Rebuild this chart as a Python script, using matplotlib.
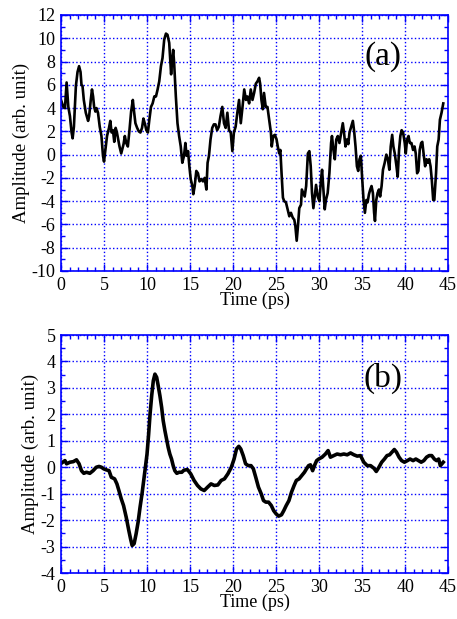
import numpy as np
import matplotlib
matplotlib.use('Agg')
import matplotlib.pyplot as plt
from matplotlib.ticker import MultipleLocator

# (a) raw waveform
time_a = [0.0, 0.27, 0.46, 0.65, 0.85, 1.04, 1.23, 1.35, 1.5, 1.73, 1.92, 2.1, 2.27, 2.38, 2.5,
          2.65, 2.88, 3.15, 3.27, 3.46, 3.6, 3.73, 3.85, 4.0, 4.12, 4.3, 4.5, 4.7, 4.88, 5.0,
          5.2, 5.35, 5.58, 5.73, 5.88, 6.04, 6.19, 6.35, 6.5, 6.65, 6.8, 7.0, 7.1, 7.27, 7.42,
          7.58, 7.77, 7.96, 8.15, 8.35, 8.46, 8.65, 8.85, 9.04, 9.23, 9.42, 9.58, 9.77, 9.92,
          10.1, 10.27, 10.46, 10.65, 10.85, 11.04, 11.23, 11.42, 11.62, 11.8, 12.0, 12.2, 12.38,
          12.58, 12.7, 12.8, 12.92, 13.04, 13.15, 13.35, 13.54, 13.73, 13.92, 14.1, 14.3, 14.46,
          14.6, 14.77, 14.92, 15.08, 15.27, 15.38, 15.54, 15.73, 15.92, 16.1, 16.3, 16.5, 16.7,
          16.9, 17.04, 17.2, 17.38, 17.58, 17.77, 17.96, 18.15, 18.35, 18.54, 18.75, 18.95,
          19.14, 19.34, 19.53, 19.73, 19.92, 20.1, 20.3, 20.5, 20.7, 20.9, 21.1, 21.3, 21.5,
          21.67, 21.87, 22.06, 22.26, 22.45, 22.65, 22.84, 23.03, 23.15, 23.3, 23.46, 23.6,
          23.8, 24.0, 24.2, 24.4, 24.5, 24.67, 24.86, 25.06, 25.2, 25.37, 25.5, 25.64, 25.8,
          25.95, 26.15, 26.34, 26.54, 26.73, 26.93, 27.12, 27.24, 27.4, 27.55, 27.7, 27.9,
          28.0, 28.17, 28.33, 28.5, 28.7, 28.87, 29.03, 29.18, 29.34, 29.5, 29.65, 29.84,
          30.04, 30.23, 30.35, 30.5, 30.66, 30.8, 31.0, 31.2, 31.4, 31.5, 31.67, 31.83, 32.0,
          32.18, 32.37, 32.57, 32.76, 32.9, 33.07, 33.23, 33.4, 33.54, 33.73, 33.93, 34.08,
          34.24, 34.4, 34.55, 34.7, 34.86, 35.0, 35.17, 35.33, 35.5, 35.64, 35.8, 35.95, 36.1,
          36.26, 36.4, 36.5, 36.65, 36.8, 36.96, 37.1, 37.27, 37.43, 37.63, 37.82, 38.0, 38.17,
          38.33, 38.5, 38.64, 38.8, 39.0, 39.14, 39.3, 39.45, 39.6, 39.77, 39.96, 40.08, 40.23,
          40.4, 40.55, 40.74, 40.93, 41.1, 41.24, 41.4, 41.55, 41.7, 41.87, 42.0, 42.18, 42.33,
          42.5, 42.65, 42.8, 42.96, 43.1, 43.27, 43.4, 43.6, 43.74, 43.9, 44.05, 44.24, 44.44]
amp_a = [4.7, 4.1, 4.0, 6.2, 4.1, 3.3, 1.9, 1.4, 2.4, 5.9, 7.1, 7.6, 7.1, 6.0, 5.9,
         4.7, 3.6, 2.9, 3.3, 4.7, 5.6, 5.0, 4.1, 3.7, 4.0, 3.6, 2.4, 1.6, -0.1, -0.6,
         0.7, 1.6, 2.3, 2.9, 1.9, 2.1, 1.1, 2.3, 1.9, 1.3, 0.7, 0.1, 0.4, 0.9, 1.6,
         1.0, 0.7, 2.1, 3.7, 4.7, 3.9, 2.7, 2.3, 2.0, 1.9, 2.3, 3.1, 2.6, 2.1,
         1.9, 3.0, 4.1, 4.4, 5.0, 5.0, 5.6, 6.3, 7.6, 8.3, 9.9, 10.4, 10.3,
         9.6, 8.1, 6.9, 8.1, 9.0, 7.9, 5.0, 2.7, 1.6, 0.7, -0.7, -0.1, 1.0,
         -0.1, 0.3, -1.0, -2.1, -2.7, -3.4, -2.7, -1.4, -1.6, -2.3, -2.1, -2.3, -2.0,
         -3.0, -0.7, -0.1, 1.3, 2.3, 2.6, 2.6, 2.1, 2.4, 3.3, 4.1, 2.7,
         2.3, 3.6, 2.1, 1.9, 0.3, 1.9, 2.4, 3.6, 4.7, 2.7, 4.1, 5.6, 4.7,
         5.0, 4.4, 5.6, 4.7, 5.3, 6.1, 6.3, 6.6, 6.1, 4.7, 3.9, 5.3,
         4.1, 4.1, 3.0, 1.9, 0.7, 1.6, 1.7, 1.3, 0.7, 0.1, 0.4, -1.6, -3.7,
         -4.0, -4.1, -4.7, -5.3, -5.0, -5.4, -5.6, -6.1, -7.4, -6.1, -4.6, -4.3,
         -3.0, -3.3, -3.6, -2.7, 0.1, 0.3, -1.0, -3.3, -4.6, -3.6, -2.6, -3.6,
         -4.0, -2.1, -1.3, -3.0, -4.7, -3.9, -3.3, -1.6, 1.0, 1.6, 0.4, -0.4, 1.3,
         1.6, 1.0, 1.9, 2.7, 1.9, 0.7, 1.3, 0.9, 1.9, 2.4, 2.9, 2.0,
         0.7, -1.0, -1.4, -0.4, -0.1, -1.9, -3.9, -5.0, -3.9, -4.1, -3.4, -3.0, -2.7,
         -3.3, -5.0, -5.7, -3.9, -3.3, -3.0, -3.6, -2.7, -1.3, -0.7, 0.0, -0.4, -1.3,
         0.7, 1.7, 0.7, 0.1, -1.0, -1.9, 0.4, 1.6, 2.1, 1.9, 1.0, 0.1, 1.3,
         1.6, 1.0, 1.0, 0.4, 0.7, 0.1, -1.6, -1.4, 0.4, 1.0, 1.1, -0.1, -1.0,
         -0.4, -0.7, -0.4, -1.0, -2.1, -3.9, -3.9, -1.6, 0.7, 1.3, 3.0, 3.6, 4.4]

# (b) processed waveform
time_b = [0.08, 0.46, 0.65, 1.04, 1.42, 1.8, 2.1, 2.38, 2.65, 2.96, 3.35, 3.73, 4.1, 4.42,
          4.7, 4.96, 5.27, 5.58, 5.85, 6.23, 6.5, 6.73, 7.0, 7.27, 7.58, 7.88, 8.08, 8.27,
          8.5, 8.73, 8.96, 9.19, 9.42, 9.62, 9.81, 10.0, 10.19, 10.35, 10.54, 10.73, 10.92,
          11.12, 11.3, 11.5, 11.7, 11.88, 12.08, 12.27, 12.46, 12.65, 12.85, 13.04, 13.23,
          13.46, 13.73, 14.04, 14.3, 14.7, 15.08, 15.47, 15.87, 16.26, 16.65, 17.05, 17.44,
          17.83, 18.23, 18.62, 19.0, 19.4, 19.8, 20.12, 20.4, 20.67, 20.9, 21.18, 21.46,
          21.77, 22.09, 22.36, 22.64, 22.95, 23.27, 23.54, 23.82, 24.13, 24.45, 24.72, 25.0,
          25.3, 25.63, 25.9, 26.18, 26.5, 26.8, 27.1, 27.36, 27.68, 28.0, 28.3, 28.54, 28.78,
          29.0, 29.25, 29.5, 29.72, 29.96, 30.35, 30.74, 31.05, 31.32, 31.7, 32.1, 32.5,
          32.88, 33.27, 33.66, 34.05, 34.44, 34.82, 35.2, 35.6, 35.99, 36.38, 36.65, 36.96,
          37.28, 37.6, 37.9, 38.2, 38.52, 38.75, 39.0, 39.3, 39.6, 39.92, 40.27, 40.58,
          40.93, 41.25, 41.56, 41.87, 42.18, 42.5, 42.8, 43.1, 43.4, 43.66, 43.9, 44.1,
          44.28, 44.44]
amp_b = [0.16, 0.25, 0.13, 0.19, 0.21, 0.28, 0.13, -0.13, -0.23, -0.19, -0.23, -0.13, 0.0, 0.03,
         0.0, -0.06, -0.1, -0.13, -0.38, -0.44, -0.63, -0.88, -1.19, -1.45, -1.89, -2.39, -2.7, -2.96,
         -2.89, -2.52, -2.08, -1.51, -1.0, -0.5, 0.0, 0.5, 1.26, 2.0, 2.7, 3.27, 3.52,
         3.4, 3.08, 2.7, 2.26, 1.76, 1.38, 1.07, 0.75, 0.5, 0.31, 0.06, -0.13,
         -0.23, -0.19, -0.19, -0.11, -0.09, -0.25, -0.5, -0.69, -0.82, -0.88, -0.75, -0.63,
         -0.69, -0.67, -0.5, -0.44, -0.25, 0.0, 0.31, 0.69, 0.79, 0.69, 0.44, 0.13,
         0.06, 0.06, -0.06, -0.38, -0.75, -1.0, -1.26, -1.32, -1.32, -1.45, -1.64, -1.76,
         -1.85, -1.8, -1.64, -1.45, -1.26, -0.94, -0.69, -0.5, -0.44, -0.31, -0.19, -0.06, 0.06,
         0.09, -0.13, 0.09, 0.25, 0.31, 0.38, 0.5, 0.63, 0.38, 0.44, 0.5, 0.47,
         0.5, 0.47, 0.54, 0.47, 0.42, 0.44, 0.19, 0.06, 0.06, -0.04, -0.16, 0.0,
         0.19, 0.31, 0.44, 0.47, 0.59, 0.67, 0.57, 0.38, 0.25, 0.19, 0.25, 0.31,
         0.25, 0.31, 0.25, 0.19, 0.25, 0.38, 0.44, 0.44, 0.31, 0.25, 0.31, 0.06,
         0.13, 0.19]

BLUE = '#0000ff'
plt.rcParams['font.family'] = ['Liberation Serif', 'DejaVu Serif']
plt.rcParams['font.size'] = 13
plt.rcParams['axes.unicode_minus'] = False


def style_axis(ax, ylo, yhi, ymajor, yminor):
    ax.set_xlim(0, 45)
    ax.set_ylim(ylo, yhi)
    ax.xaxis.set_major_locator(MultipleLocator(5))
    ax.xaxis.set_minor_locator(MultipleLocator(1))
    ax.yaxis.set_major_locator(MultipleLocator(ymajor))
    ax.yaxis.set_minor_locator(MultipleLocator(yminor))
    ax.tick_params(which='both', direction='in', top=True, right=True,
                   color=BLUE, labelcolor='black', labelsize=13, pad=4)
    ax.tick_params(which='major', length=5, width=1)
    ax.tick_params(which='minor', length=3, width=1)
    for sp in ax.spines.values():
        sp.set_color(BLUE)
        sp.set_linewidth(1.2)
    ax.grid(True, which='major', color=BLUE, linestyle=':', linewidth=1)
    ax.set_xlabel('Time (ps)', fontsize=13, labelpad=-1)
    ax.set_ylabel('Amplitude (arb. unit)', fontsize=13.5, labelpad=1)


fig = plt.figure(figsize=(4.57, 6.19), dpi=100)
ax1 = fig.add_axes([0.1335, 0.5622, 0.847, 0.4136])
ax2 = fig.add_axes([0.1335, 0.0743, 0.847, 0.3845])

ax1.plot(time_a, amp_a, color='black', linewidth=1.9)
style_axis(ax1, -10, 12, 2, 1)
ax1.text(37.4, 8.4, '(a)', fontsize=24, ha='center', va='center')

ax2.plot(time_b, amp_b, color='black', linewidth=2.6)
style_axis(ax2, -4, 5, 1, 0.5)
ax2.text(37.4, 3.37, '(b)', fontsize=24, ha='center', va='center')

fig.savefig('out.png', dpi=100)
